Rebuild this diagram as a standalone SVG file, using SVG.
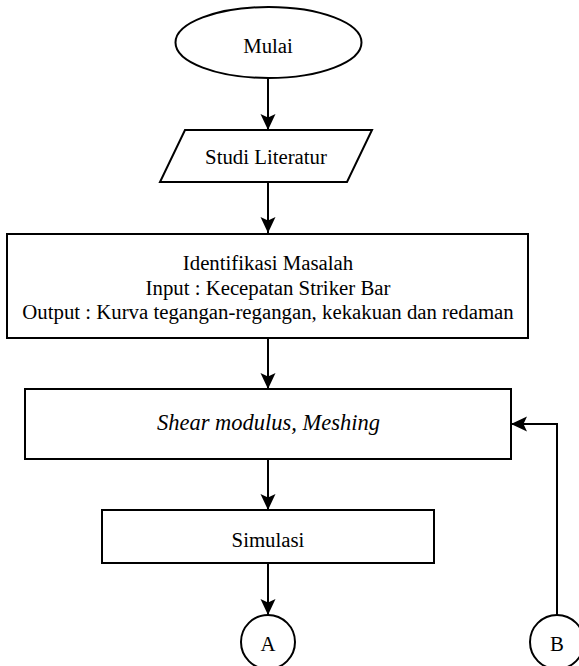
<svg xmlns="http://www.w3.org/2000/svg" width="579" height="666" viewBox="0 0 579 666">
<style>
.s{fill:#fff;stroke:#000;stroke-width:2}
.t{font-size:20.8px;fill:#000;text-anchor:middle}
.i{font-style:italic;font-size:22.5px}
.c{fill:none;stroke:#000;stroke-width:2}
</style>
<defs>
<marker id="ah" markerUnits="userSpaceOnUse" markerWidth="16" markerHeight="16" viewBox="0 0 16 16" refX="16" refY="8" orient="auto">
<path d="M0,0.5 L16,8 L0,15.5 L3.5,8 Z" fill="#000"/>
</marker>
</defs>
<rect width="579" height="666" fill="#fff"/>
<g id="connectors">
<line class="c" x1="268" y1="78" x2="268" y2="130" marker-end="url(#ah)"/>
<line class="c" x1="268" y1="182" x2="268" y2="233" marker-end="url(#ah)"/>
<line class="c" x1="268" y1="338" x2="268" y2="389" marker-end="url(#ah)"/>
<line class="c" x1="268" y1="459" x2="268" y2="510" marker-end="url(#ah)"/>
<line class="c" x1="268" y1="563" x2="268" y2="615" marker-end="url(#ah)"/>
<polyline class="c" points="557,615 557,424 511,424" marker-end="url(#ah)"/>
</g>
<g font-family="'Liberation Serif', 'DejaVu Serif', serif">
<g id="mulai">
<ellipse class="s" cx="268.5" cy="42.5" rx="93" ry="35.5"/>
<text class="t" x="268" y="53">Mulai</text>
</g>
<g id="studi">
<polygon class="s" points="185,130 372,130 347,182 160,182"/>
<text class="t" x="266" y="164">Studi Literatur</text>
</g>
<g id="identifikasi">
<rect class="s" x="7" y="234" width="521" height="104"/>
<text class="t" x="268" y="270">Identifikasi Masalah</text>
<text class="t" x="268" y="295">Input : Kecepatan Striker Bar</text>
<text class="t" x="268" y="319">Output : Kurva tegangan-regangan, kekakuan dan redaman</text>
</g>
<g id="shear">
<rect class="s" x="25" y="389" width="486" height="70"/>
<text class="t i" x="268.5" y="430">Shear modulus, Meshing</text>
</g>
<g id="simulasi">
<rect class="s" x="102" y="510" width="332" height="53"/>
<text class="t" x="268" y="547">Simulasi</text>
</g>
<g id="A">
<circle class="s" cx="268" cy="642" r="27"/>
<text class="t" x="268" y="651">A</text>
</g>
<g id="B">
<circle class="s" cx="557" cy="642" r="27"/>
<text class="t" x="557" y="651">B</text>
</g>
</g>
</svg>
